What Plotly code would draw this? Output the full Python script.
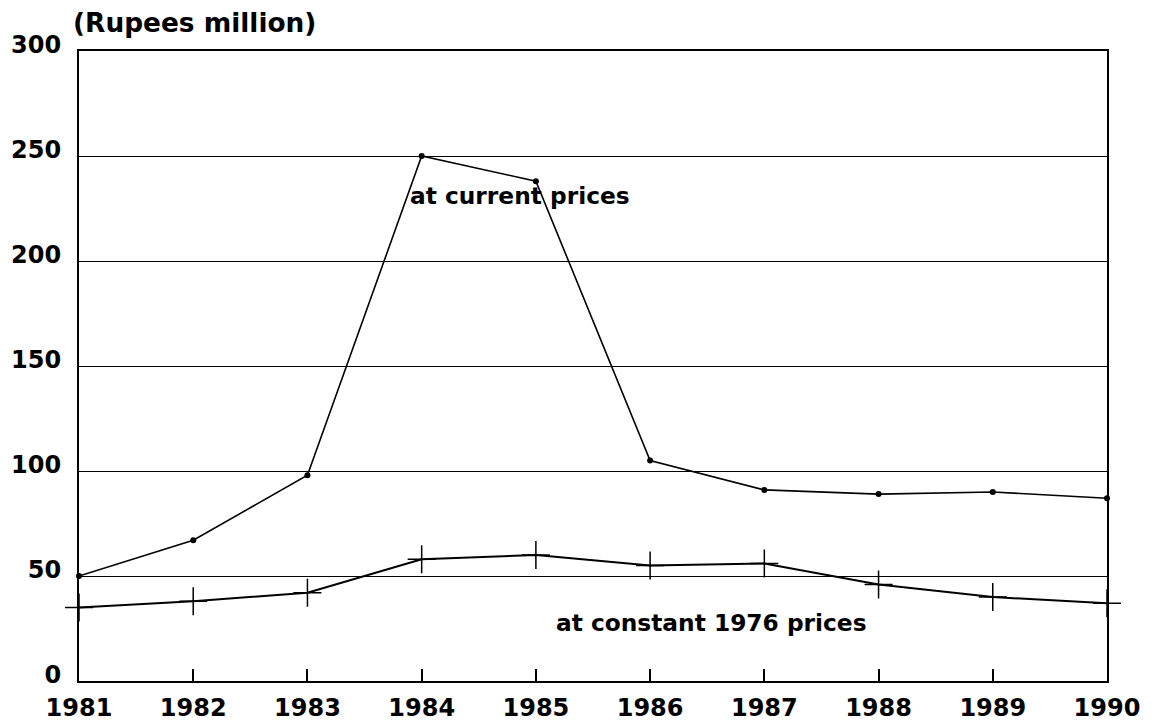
import plotly.graph_objects as go

years = [1981, 1982, 1983, 1984, 1985, 1986, 1987, 1988, 1989, 1990]
current_prices = [50, 67, 98, 250, 238, 105, 91, 89, 90, 87]
constant_prices = [35, 38, 42, 58, 60, 55, 56, 46, 40, 37]
y_ticks = [0, 50, 100, 150, 200, 250, 300]

FONT = "DejaVu Sans"
W, H = 1157, 725
ML, MR, MT, MB = 71, 58, 43, 52

fig = go.Figure()

fig.add_trace(go.Scatter(
    x=years, y=current_prices, mode="lines+markers",
    line=dict(color="black", width=1.6),
    marker=dict(symbol="circle", size=6, color="black"),
    name="at current prices", cliponaxis=False,
))

fig.add_trace(go.Scatter(
    x=years, y=constant_prices, mode="lines+markers",
    line=dict(color="black", width=2),
    marker=dict(symbol="cross-thin", size=20, line=dict(color="black", width=1.5)),
    name="at constant 1976 prices", cliponaxis=False,
))

fig.add_annotation(x=1983.88, y=231, text="<b>at current prices</b>", showarrow=False,
                   xanchor="left", yanchor="middle", font=dict(family=FONT, size=23.3, color="black"))
fig.add_annotation(x=1985.16, y=28, text="<b>at constant 1976 prices</b>", showarrow=False,
                   xanchor="left", yanchor="middle", font=dict(family=FONT, size=23.3, color="black"))

pw = W - ML - MR
ph = H - MT - MB
fig.add_annotation(x=(63 - ML) / pw, y=(H - MB - 15) / ph, xref="paper", yref="paper",
                   text="<b>(Rupees million)</b>", showarrow=False,
                   xanchor="left", yanchor="middle", font=dict(family=FONT, size=26.4, color="black"))

fig.update_layout(
    width=W, height=H,
    margin=dict(l=ML, r=MR, t=MT, b=MB, autoexpand=False),
    paper_bgcolor="white", plot_bgcolor="white",
    showlegend=False,
    font=dict(family=FONT, color="black"),
)

fig.update_xaxes(
    range=[1981, 1990], tickmode="array", tickvals=years,
    ticktext=[f"<b>{y}</b>" for y in years],
    tickfont=dict(family=FONT, size=24, color="black"),
    showgrid=False, zeroline=False, automargin=False,
    showline=True, linecolor="black", linewidth=2, mirror=True,
    ticks="inside", ticklen=12, tickwidth=1.5, tickcolor="black",
    ticklabelstandoff=4,
)

fig.update_yaxes(
    range=[0, 300], tickmode="array", tickvals=y_ticks,
    ticktext=[f"<b>{v}</b>" for v in y_ticks],
    tickfont=dict(family=FONT, size=24, color="black"),
    showgrid=True, gridcolor="black", gridwidth=1.3, zeroline=False, automargin=False,
    showline=True, linecolor="black", linewidth=2, mirror=True,
    ticks="", ticklabelstandoff=11, ticklabelshift=-6,
)

fig.write_html("out.html")
